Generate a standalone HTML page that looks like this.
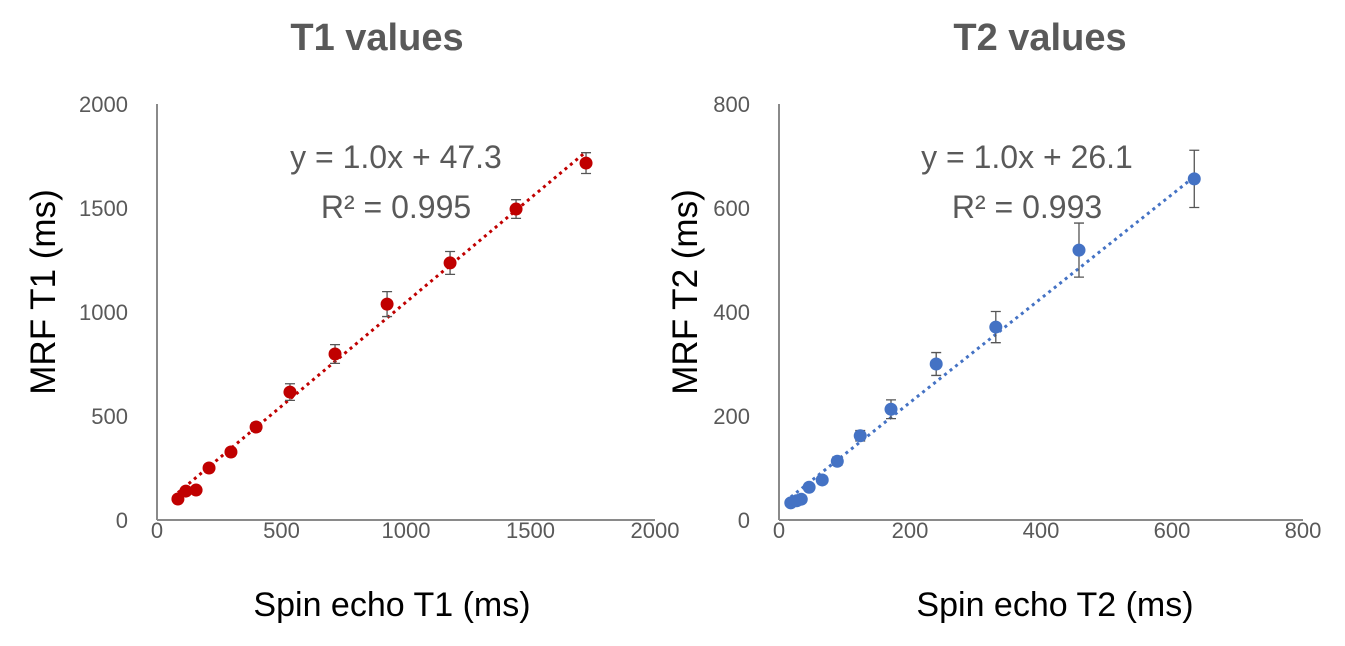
<!DOCTYPE html>
<html><head><meta charset="utf-8"><style>
body{margin:0;background:#fff;width:1345px;height:641px;overflow:hidden;font-family:"Liberation Sans",sans-serif}
svg text{font-family:"Liberation Sans",sans-serif}
</style></head><body>
<svg id="c" width="1345" height="641"></svg>
<script>
const t1X=[84,116,157,209,297,398,534,715,924,1177,1442,1723];
const t1Y=[101,139,144,250,327,447,615,798,1038,1236,1495,1716];
const t1E=[15,15,15,18,18,20,40,45,60,55,45,50];
const t2X=[18,27,34,46,66,89,124,171,240,331,458,634];
const t2Y=[33,37,40,63,77,113,162,213,300,371,519,656];
const t2E=[5,5,6,6,7,8,10,18,22,30,52,55];
const t1Ticks=[0,500,1000,1500,2000];
const t2Ticks=[0,200,400,600,800];
const NS="http://www.w3.org/2000/svg";
const svg=document.getElementById('c');
function mk(tag,attrs,parent){const e=document.createElementNS(NS,tag);for(const k in attrs)e.setAttribute(k,attrs[k]);(parent||svg).appendChild(e);return e;}
function chart(cfg){
 const g=mk('g',{});
 
 
 const sx=v=>cfg.x0+(v/cfg.max)*(cfg.x1-cfg.x0);
 const sy=v=>520-(v/cfg.max)*416;
 const t=mk('text',{x:cfg.tx,y:50,'text-anchor':'middle','font-size':38,'font-weight':'bold',fill:'#595959'},g);t.textContent=cfg.title;
 
 
 const ax=mk('line',{x1:cfg.x0,y1:104,x2:cfg.x0,y2:520,stroke:'#8a8a8a','stroke-width':2},g);
 
 
 const axx=mk('line',{x1:cfg.x0,y1:520,x2:cfg.x1,y2:520,stroke:'#8a8a8a','stroke-width':2},g);
 
 
 cfg.ticks.forEach(v=>{
  const a=mk('text',{x:cfg.x0-29,y:sy(v)+8,'text-anchor':'end','font-size':22,fill:'#595959'},g);a.textContent=v;
  
  
  const b=mk('text',{x:sx(v),y:538,'text-anchor':'middle','font-size':22,fill:'#595959'},g);b.textContent=v;
  
  
 });
 const xt=mk('text',{x:cfg.xtx,y:616,'text-anchor':'middle','font-size':34,fill:'#000'},g);xt.textContent=cfg.xl;
 
 
 const yt=mk('text',{x:0,y:0,'text-anchor':'middle','font-size':35,fill:'#000',transform:`translate(${cfg.ytx},292) rotate(-90)`},g);yt.textContent=cfg.yl;
 
 
 const xs=cfg.xs,ys=cfg.ys,es=cfg.es;
 const lo=Math.min(...xs),hi=Math.max(...xs);
 const tl=mk('line',{x1:sx(lo),y1:sy(cfg.m*lo+cfg.b),x2:sx(hi),y2:sy(cfg.m*hi+cfg.b),stroke:cfg.col,'stroke-width':3,'stroke-dasharray':'3 4'},g);
 
 
 xs.forEach((x,i)=>{
  const px=sx(x),t=sy(ys[i]+es[i]),bt=sy(ys[i]-es[i]);
  const e=mk('path',{d:`M${px},${t}V${bt}M${px-5},${t}H${px+5}M${px-5},${bt}H${px+5}`,stroke:'#555','stroke-width':1.3,fill:'none'},g);
  
  
  const c=mk('circle',{cx:px,cy:sy(ys[i]),r:6.5,fill:cfg.col},g);
  
  
 });
 const e1=mk('text',{x:cfg.ex,y:168,'text-anchor':'middle','font-size':32,fill:'#595959'},g);e1.textContent=cfg.eq;
 
 
 const e2=mk('text',{x:cfg.ex,y:218,'text-anchor':'middle','font-size':32,fill:'#595959'},g);e2.textContent=cfg.r2;
 
 
}
chart({name:'t1-chart',title:'T1 values',tx:377,xtx:392,ytx:55,x0:157,x1:655,max:2000,ticks:t1Ticks,xs:t1X,ys:t1Y,es:t1E,col:'#c00000',m:1.0,b:47.3,xl:'Spin echo T1 (ms)',yl:'MRF T1 (ms)',ex:396,eq:'y = 1.0x + 47.3',r2:'R² = 0.995'});
chart({name:'t2-chart',title:'T2 values',tx:1040,xtx:1055,ytx:697,x0:779,x1:1303,max:800,ticks:t2Ticks,xs:t2X,ys:t2Y,es:t2E,col:'#4472c4',m:1.0,b:26.1,xl:'Spin echo T2 (ms)',yl:'MRF T2 (ms)',ex:1027,eq:'y = 1.0x + 26.1',r2:'R² = 0.993'});
</script>
</body></html>
